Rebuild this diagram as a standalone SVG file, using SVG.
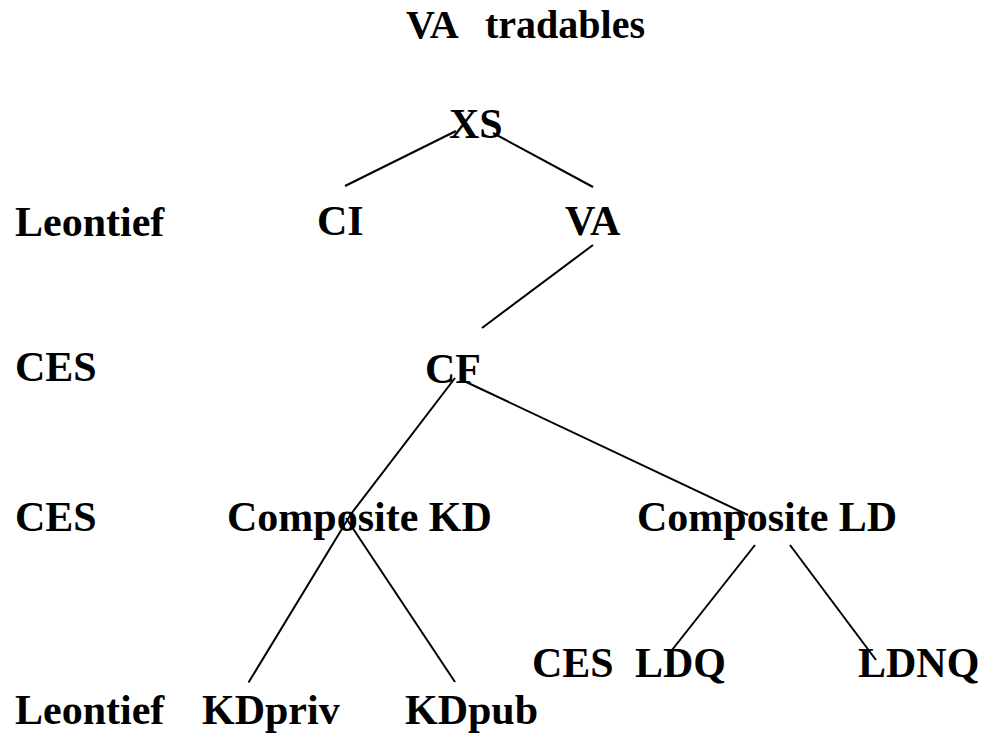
<svg xmlns="http://www.w3.org/2000/svg" width="983" height="737" viewBox="0 0 983 737">
<style>
text{font-family:"Liberation Serif","Times New Roman",serif;font-weight:bold;font-size:42px;fill:#000}
.title{font-size:40px}
#connectors line,#connectors polyline{stroke:#000;stroke-width:2;fill:none}
</style>
<rect width="983" height="737" fill="#fff"/>
<g id="connectors">
<line x1="345" y1="186" x2="456" y2="131"/>
<line x1="493" y1="133" x2="593" y2="187"/>
<line x1="593" y1="245" x2="482" y2="328"/>
<polyline points="455,378 351,514 248.5,682.5"/>
<line x1="346" y1="518" x2="455" y2="682"/>
<line x1="464" y1="381" x2="748" y2="515"/>
<line x1="755" y1="545" x2="672" y2="650"/>
<line x1="790" y1="545" x2="876" y2="660"/>
</g>
<g id="title"><text class="title" x="406" y="38">VA</text><text class="title" x="485" y="38">tradables</text></g>
<g id="node-XS"><text x="449" y="138">XS</text></g>
<g id="label-leontief-1"><text x="15" y="236">Leontief</text></g>
<g id="node-CI"><text x="317" y="235">CI</text></g>
<g id="node-VA"><text x="565" y="235">VA</text></g>
<g id="label-ces-1"><text x="15" y="381">CES</text></g>
<g id="node-CF"><text x="425" y="383">CF</text></g>
<g id="label-ces-2"><text x="15" y="531">CES</text></g>
<g id="node-compKD"><text x="227" y="531">Composite KD</text></g>
<g id="node-compLD"><text x="637" y="531">Composite LD</text></g>
<g id="label-ces-3"><text x="532" y="677">CES</text></g>
<g id="node-LDQ"><text x="635" y="677">LDQ</text></g>
<g id="node-LDNQ"><text x="858" y="677">LDNQ</text></g>
<g id="label-leontief-2"><text x="15" y="724">Leontief</text></g>
<g id="node-KDpriv"><text x="202" y="724">KDpriv</text></g>
<g id="node-KDpub"><text x="405" y="724">KDpub</text></g>
</svg>
